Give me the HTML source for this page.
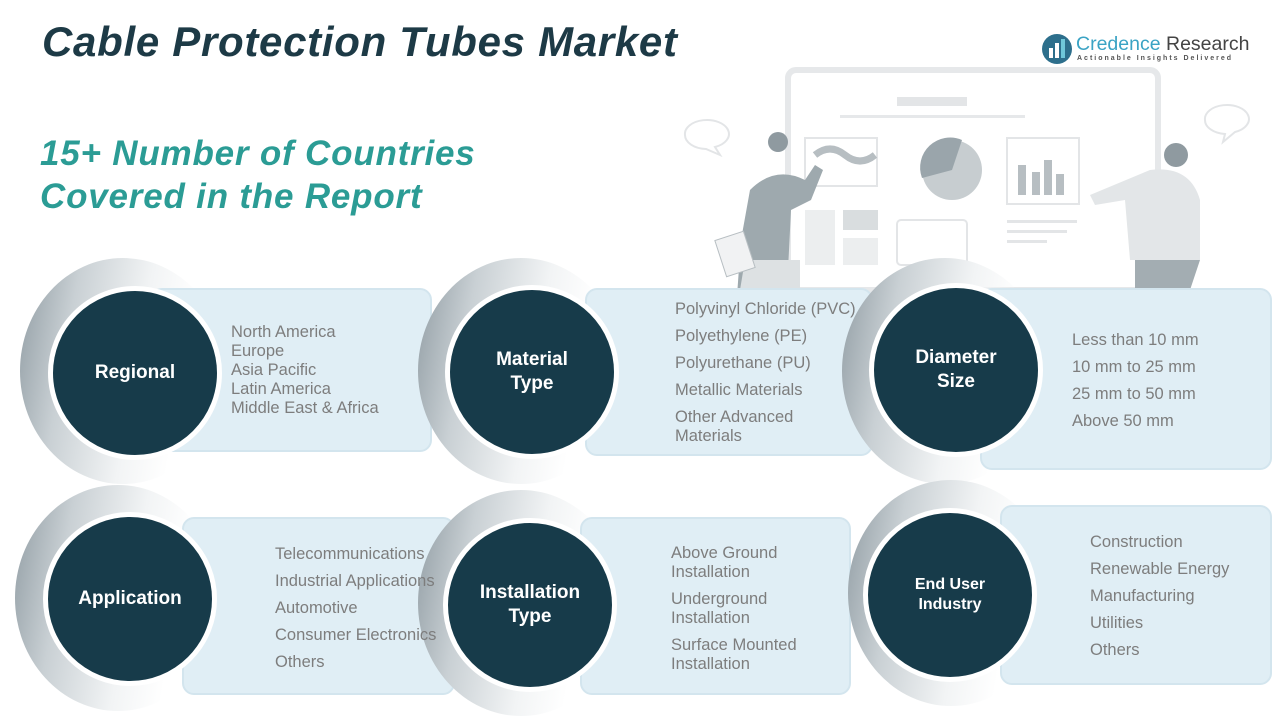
<!DOCTYPE html>
<html><head><meta charset="utf-8"><style>
body{margin:0;width:1280px;height:720px;background:#fff;position:relative;overflow:hidden;font-family:"Liberation Sans",sans-serif}
.a{position:absolute}
.title{left:42px;top:18px;font-size:42px;font-weight:bold;font-style:italic;color:#1d3a46;letter-spacing:0.7px}
.sub{left:40px;top:132px;font-size:35px;font-weight:bold;font-style:italic;color:#2b9c95;line-height:43px;letter-spacing:0.8px}
.panel{position:absolute;background:#e0eef5;border:2px solid #d3e5ee;border-radius:12px;box-sizing:border-box}
.cres{position:absolute;border-radius:50%;background:linear-gradient(100deg,#8f9ba2 0%,#c9d0d4 25%,#f2f4f5 55%,rgba(255,255,255,0) 75%)}
.dot{position:absolute;width:164px;height:164px;border-radius:50%;background:#173b4a;border:5px solid #fff;box-sizing:content-box;color:#fff;font-weight:bold;font-size:19px;display:flex;align-items:center;justify-content:center;text-align:center;line-height:24px;z-index:2}
.list{position:absolute;color:#7d7d7d;font-size:16.5px;line-height:19px;z-index:3}
.list div{white-space:nowrap}
</style></head><body>
<div class="a title">Cable Protection Tubes Market</div>
<div class="a sub">15+ Number of Countries<br>Covered in the Report</div>

<svg class="a" style="left:1040px;top:32px" width="34" height="34" viewBox="0 0 34 34"><circle cx="17" cy="17" r="15" fill="#2d6f8c"/><rect x="9" y="16" width="4" height="10" fill="#fff"/><rect x="15" y="11" width="4" height="15" fill="#fff"/><rect x="21" y="7" width="4" height="19" fill="#6fc7d9"/></svg>
<div class="a" style="left:1076px;top:33px;font-size:19.5px;color:#444"><span style="color:#3aa3c4">Credence</span> Research</div>
<div class="a" style="left:1077px;top:55px;font-size:7px;letter-spacing:2px;color:#555;font-weight:bold">Actionable Insights Delivered</div>

<svg class="a" style="left:680px;top:60px" width="600" height="240">
<rect x="108" y="10" width="370" height="220" rx="8" fill="none" stroke="#e6e8ea" stroke-width="6"/>
<rect x="217" y="37" width="70" height="9" fill="#e3e5e7"/>
<rect x="160" y="55" width="185" height="3" fill="#e6e8ea"/>
<rect x="125" y="78" width="72" height="48" fill="none" stroke="#e3e5e7" stroke-width="2"/>
<path d="M135 95 q15 -12 30 0 t30 0" stroke="#b7bec2" stroke-width="7" fill="none"/>
<circle cx="272" cy="110" r="30" fill="#c7cdd0"/><path d="M272 110 L282 80 A30 30 0 0 0 242 118Z" fill="#9aa5ab"/>
<rect x="125" y="150" width="30" height="55" fill="#eceeef"/><rect x="163" y="150" width="35" height="20" fill="#d9dddf"/><rect x="163" y="178" width="35" height="27" fill="#eceeef"/>
<rect x="217" y="160" width="70" height="45" rx="4" fill="none" stroke="#e3e5e7" stroke-width="2"/>
<rect x="327" y="78" width="72" height="66" fill="none" stroke="#e3e5e7" stroke-width="2"/>
<rect x="338" y="105" width="8" height="30" fill="#b7bec2"/><rect x="352" y="112" width="8" height="23" fill="#b7bec2"/><rect x="364" y="100" width="8" height="35" fill="#b7bec2"/><rect x="376" y="114" width="8" height="21" fill="#b7bec2"/>
<rect x="327" y="160" width="70" height="3" fill="#e3e5e7"/><rect x="327" y="170" width="60" height="3" fill="#e3e5e7"/><rect x="327" y="180" width="40" height="3" fill="#e3e5e7"/>
<path d="M5 75 a22 14 0 1 1 30 12 l5 8 -14 -6 a22 14 0 0 1 -21 -14z" fill="none" stroke="#e3e5e7" stroke-width="2"/>
<path d="M525 60 a22 14 0 1 1 30 12 l-12 10 2 -8 a22 14 0 0 1 -20 -14z" fill="none" stroke="#e3e5e7" stroke-width="2"/>
<circle cx="98" cy="82" r="10" fill="#8f9aa0"/>
<path d="M70 130 q25 -25 55 -10 l10 -15 8 5 -12 30 -20 10 -5 100 h-50 l5 -70z" fill="#9ea9ae"/>
<path d="M65 200 h55 v30 h-60z" fill="#dde1e3"/>
<rect x="40" y="175" width="30" height="38" fill="#f1f2f3" stroke="#b7bec2" transform="rotate(-18 55 194)"/>
<circle cx="496" cy="95" r="12" fill="#8f9aa0"/>
<path d="M470 110 q40 -5 50 30 v60 h-70 l-5 -60 -30 5 -5 -10 z" fill="#e3e6e8"/>
<path d="M455 200 h65 l-10 30 h-55z" fill="#a3adb2"/>
</svg>

<div class="cres" style="left:20px;top:258px;width:206px;height:226px"></div>
<div class="panel" style="left:150px;top:288px;width:282px;height:164px"></div>
<div class="dot" style="left:48px;top:286px">Regional</div>
<div class="list" style="left:231px;top:323px"><div>North America</div><div>Europe</div><div>Asia Pacific</div><div>Latin America</div><div>Middle East &amp; Africa</div></div>

<div class="cres" style="left:418px;top:258px;width:206px;height:226px"></div>
<div class="panel" style="left:585px;top:288px;width:288px;height:168px"></div>
<div class="dot" style="left:445px;top:285px">Material<br>Type</div>
<div class="list" style="left:675px;top:300px"><div style="margin-bottom:8px">Polyvinyl Chloride (PVC)</div><div style="margin-bottom:8px">Polyethylene (PE)</div><div style="margin-bottom:8px">Polyurethane (PU)</div><div style="margin-bottom:8px">Metallic Materials</div><div>Other Advanced<br>Materials</div></div>

<div class="cres" style="left:842px;top:258px;width:206px;height:226px"></div>
<div class="panel" style="left:980px;top:288px;width:292px;height:182px"></div>
<div class="dot" style="left:869px;top:283px">Diameter<br>Size</div>
<div class="list" style="left:1072px;top:331px"><div style="margin-bottom:8px">Less than 10 mm</div><div style="margin-bottom:8px">10 mm to 25 mm</div><div style="margin-bottom:8px">25 mm to 50 mm</div><div>Above 50 mm</div></div>

<div class="cres" style="left:15px;top:485px;width:206px;height:226px"></div>
<div class="panel" style="left:182px;top:517px;width:273px;height:178px"></div>
<div class="dot" style="left:43px;top:512px">Application</div>
<div class="list" style="left:275px;top:545px"><div style="margin-bottom:8px">Telecommunications</div><div style="margin-bottom:8px">Industrial Applications</div><div style="margin-bottom:8px">Automotive</div><div style="margin-bottom:8px">Consumer Electronics</div><div>Others</div></div>

<div class="cres" style="left:418px;top:490px;width:206px;height:226px"></div>
<div class="panel" style="left:580px;top:517px;width:271px;height:178px"></div>
<div class="dot" style="left:443px;top:518px">Installation<br>Type</div>
<div class="list" style="left:671px;top:544px"><div>Above Ground</div><div style="margin-bottom:8px">Installation</div><div>Underground</div><div style="margin-bottom:8px">Installation</div><div>Surface Mounted</div><div>Installation</div></div>

<div class="cres" style="left:848px;top:480px;width:206px;height:226px"></div>
<div class="panel" style="left:1000px;top:505px;width:272px;height:180px"></div>
<div class="dot" style="left:863px;top:508px;font-size:16px;line-height:20px">End User<br>Industry</div>
<div class="list" style="left:1090px;top:533px"><div style="margin-bottom:8px">Construction</div><div style="margin-bottom:8px">Renewable Energy</div><div style="margin-bottom:8px">Manufacturing</div><div style="margin-bottom:8px">Utilities</div><div>Others</div></div>
</body></html>
